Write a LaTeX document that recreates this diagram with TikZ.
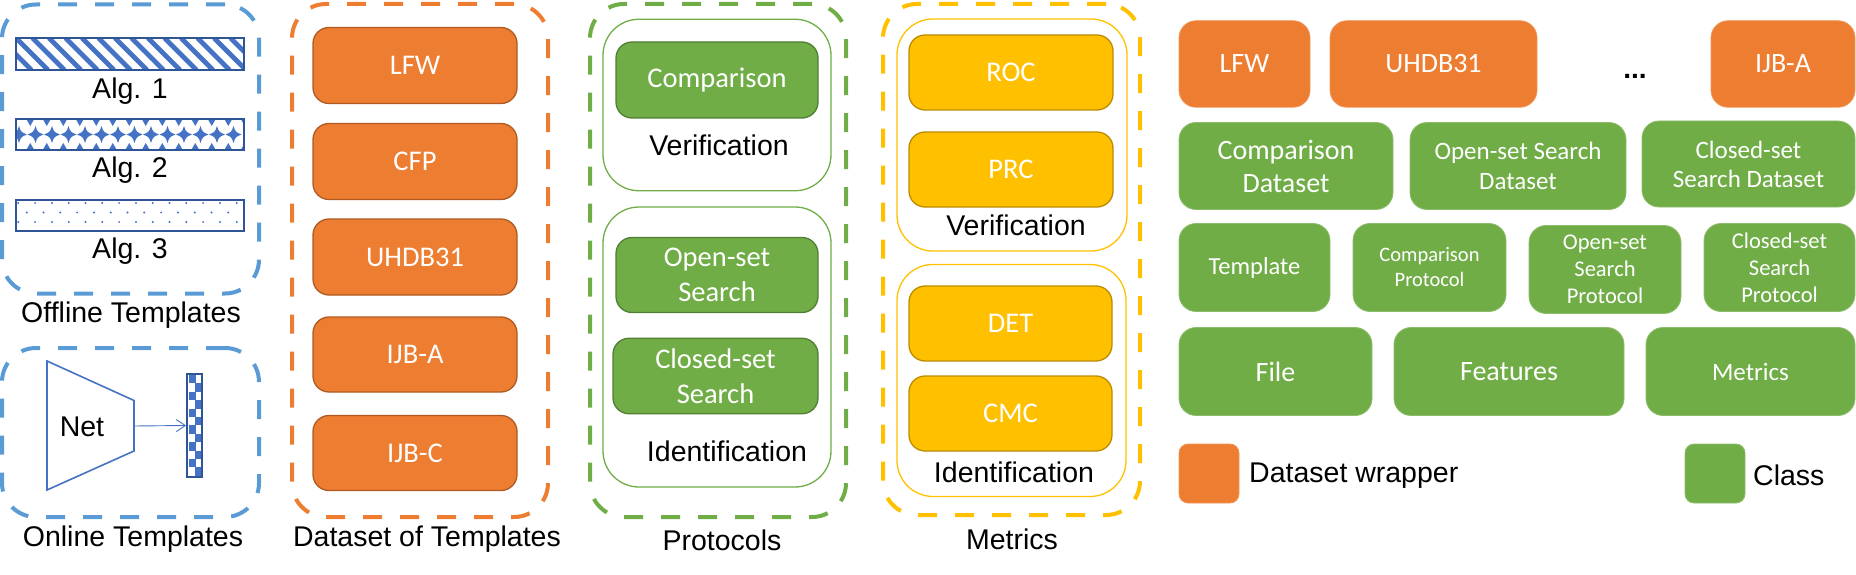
\documentclass[tikz,border=0pt]{standalone}
\usepackage{fontspec}
\setmainfont{Liberation Sans}
\newfontfamily\boxfont{Carlito}
\usetikzlibrary{arrows.meta}
\definecolor{orfill}{HTML}{ED7D31}
\definecolor{ordraw}{HTML}{AE5A21}
\definecolor{grfill}{HTML}{70AD47}
\definecolor{grdraw}{HTML}{507E32}
\definecolor{yefill}{HTML}{FFC000}
\definecolor{yedraw}{HTML}{BC8C00}
\definecolor{bldash}{HTML}{5B9BD5}
\definecolor{blpat}{HTML}{4472C4}
\definecolor{bldraw}{HTML}{2F5597}
\tikzset{
  dashbox/.style={draw=#1, line width=4pt, dash pattern=on 19pt off 18pt, rounded corners=34pt, inner sep=0pt},
  innerbox/.style={draw=#1, line width=1.3pt, rounded corners=36pt, inner sep=0pt},
  cbox/.style={rectangle, rounded corners=16pt, line width=1.3pt, text=white, align=center, inner sep=0pt,
    font=\boxfont\fontsize{28.5}{35}\selectfont},
  obox/.style={cbox, fill=orfill, draw=ordraw},
  gbox/.style={cbox, fill=grfill, draw=grdraw},
  ybox/.style={cbox, fill=yefill, draw=yedraw},
  rbox/.style={rectangle, rounded corners=17pt, fill=#1, draw=#1!80!white, line width=0.8pt, text=white, align=center, inner sep=0pt,
    font=\boxfont\fontsize{28}{33}\selectfont},
  lbl/.style={font=\fontsize{28.5}{33}\selectfont, inner sep=0pt, text=black},
}
\begin{document}
\begin{tikzpicture}[x=1pt,y=-1pt]
\useasboundingbox (0,0) rectangle (1856,575);
% ---------------- Offline / Online templates ----------------
\node[dashbox=bldash, minimum width=257, minimum height=289] (offbox) at (130.5,149) {};
% Alg 1 bar: diagonal stripes
\begin{scope}
  \clip (16,38) rectangle (244,70);
  \foreach \i in {-3,...,15} \draw[blpat, line width=4.8pt] (16+\i*16.5,38) -- (48+\i*16.5,70);
\end{scope}
\node[draw=bldraw, line width=1.8pt, minimum width=228, minimum height=32, inner sep=0pt] (alg1bar) at (130,54) {};
\node[lbl] (alg1) at (130,91.5) {Alg. 1};
% Alg 2 bar: diamonds
\begin{scope}
  \clip (16,119) rectangle (244,150);
  \foreach \i in {0,...,13} \fill[blpat] (19+\i*16.5,126) .. controls (21+\i*16.5,132) .. (27+\i*16.5,134.5) .. controls (21+\i*16.5,137) .. (19+\i*16.5,143) .. controls (17+\i*16.5,137) .. (11+\i*16.5,134.5) .. controls (17+\i*16.5,132) .. cycle;
  \foreach \i in {0,...,14} {
    \fill[blpat] (9.75+\i*16.5,119) -- (17.75+\i*16.5,119) -- (13.75+\i*16.5,126) -- cycle;
    \fill[blpat] (9.75+\i*16.5,150) -- (17.75+\i*16.5,150) -- (13.75+\i*16.5,143) -- cycle;
  }
\end{scope}
\node[draw=bldraw, line width=1.8pt, minimum width=228, minimum height=31, inner sep=0pt] (alg2bar) at (130,134.5) {};
\node[lbl] (alg2) at (130,170.5) {Alg. 2};
% Alg 3 bar: dots
\foreach \i in {0,...,13} {
  \fill[blpat] (18.3+\i*16.8,203) circle (1.1pt);
  \fill[blpat] (18.3+\i*16.8,222) circle (1.1pt);
}
\foreach \i in {0,...,12} \fill[blpat] (26.7+\i*16.8,212.5) circle (1.1pt);
\node[draw=bldraw, line width=1.8pt, minimum width=228, minimum height=31, inner sep=0pt] (alg3bar) at (130,215.5) {};
\node[lbl] (alg3) at (130,251) {Alg. 3};
\node[lbl] (offlbl) at (131,315.5) {Offline Templates};
% Online
\node[dashbox=bldash, minimum width=257, minimum height=169] (onbox) at (130.5,432.5) {};
\draw[blpat, line width=1.6pt] (47,361) -- (134,400.5) -- (134,451) -- (47,490) -- cycle;
\coordinate (netout) at (134,426);
\node[lbl] (net) at (82,427) {Net};
\foreach \r in {0,...,11} {
  \pgfmathsetmacro{\cx}{mod(\r,2)==0 ? 189 : 194.5}
  \fill[blpat] (\cx,375+\r*8.4) rectangle ++(6.5,8.4);
}
\node[draw=bldraw, line width=1.8pt, minimum width=15, minimum height=103, inner sep=0pt] (feat) at (194.5,425.5) {};
\draw[blpat, line width=0.9pt, -{Straight Barb[length=9pt,width=12pt]}] (netout) -- (feat.west);
\node[lbl] (onlbl) at (133,539) {Online Templates};
% ---------------- Dataset of Templates ----------------
\node[dashbox=orfill, minimum width=256, minimum height=513] (dsbox) at (420,260.5) {};
\node[obox, minimum width=204, minimum height=76] (dlfw) at (415,65.5) {LFW};
\node[obox, minimum width=204, minimum height=76] (dcfp) at (415,161.5) {CFP};
\node[obox, minimum width=204, minimum height=76] (duhdb) at (415,257) {UHDB31};
\node[obox, minimum width=204, minimum height=75] (dijba) at (415,354.5) {IJB-A};
\node[obox, minimum width=204, minimum height=75] (dijbc) at (415,453) {IJB-C};
\node[lbl] (dslbl) at (427,539) {Dataset of Templates};
% ---------------- Protocols ----------------
\node[dashbox=grfill, minimum width=256, minimum height=513] (prbox) at (718,260.5) {};
\node[innerbox=grfill, minimum width=228, minimum height=171.5] (prver) at (717,105) {};
\node[gbox, minimum width=202, minimum height=76] (pcomp) at (717,80) {Comparison};
\node[lbl] (prverl) at (719,145) {Verification};
\node[innerbox=grfill, minimum width=228, minimum height=280] (prid) at (717,347) {};
\node[gbox, minimum width=202, minimum height=75] (popen) at (717,275) {Open-set\\Search};
\node[gbox, minimum width=205, minimum height=75.5] (pclosed) at (715.5,376) {Closed-set\\Search};
\node[lbl] (pridl) at (727,451) {Identification};
\node[lbl] (prlbl) at (722,540.5) {Protocols};
% ---------------- Metrics ----------------
\node[dashbox=yefill, minimum width=257, minimum height=511] (mebox) at (1011.5,259.5) {};
\node[innerbox=yefill, minimum width=230, minimum height=232] (mever) at (1012,135) {};
\node[ybox, minimum width=204, minimum height=75] (mroc) at (1011,72.5) {ROC};
\node[ybox, minimum width=204, minimum height=75] (mprc) at (1011,169.5) {PRC};
\node[lbl] (meverl) at (1016,225.5) {Verification};
\node[innerbox=yefill, minimum width=229, minimum height=232] (meid) at (1011.5,380.5) {};
\node[ybox, minimum width=203, minimum height=75] (mdet) at (1010.5,323.5) {DET};
\node[ybox, minimum width=203, minimum height=75] (mcmc) at (1010.5,413.5) {CMC};
\node[lbl] (meidl) at (1014,472) {Identification};
\node[lbl] (melbl) at (1012,539) {Metrics};
% ---------------- Right: classes ----------------
\node[rbox=orfill, minimum width=131, minimum height=86.5] (rlfw) at (1244.5,64) {LFW};
\node[rbox=orfill, minimum width=207, minimum height=86.5] (ruhdb) at (1433.5,64) {UHDB31};
\node[font=\bfseries\fontsize{28}{32}\selectfont, inner sep=0pt, anchor=base] (dots) at (1635,79) {...};
\node[rbox=orfill, minimum width=144, minimum height=86.5] (rijba) at (1783,64) {IJB-A};
\node[rbox=grfill, minimum width=214, minimum height=87] (rcd) at (1286,166) {Comparison\\Dataset};
\node[rbox=grfill, minimum width=216, minimum height=87, font=\boxfont\fontsize{25}{30}\selectfont] (rosd) at (1518,166) {Open-set Search\\Dataset};
\node[rbox=grfill, minimum width=213, minimum height=86, font=\boxfont\fontsize{25}{29}\selectfont] (rcsd) at (1748.5,164) {Closed-set\\Search Dataset};
\node[rbox=grfill, minimum width=151, minimum height=88, font=\boxfont\fontsize{24.5}{28}\selectfont] (rtpl) at (1254.5,267.5) {Template};
\node[rbox=grfill, minimum width=153, minimum height=88, font=\boxfont\fontsize{20.5}{25}\selectfont] (rcp) at (1429.5,267.5) {Comparison\\Protocol};
\node[rbox=grfill, minimum width=152, minimum height=88, font=\boxfont\fontsize{22.5}{27}\selectfont] (rosp) at (1605,269.5) {Open-set\\Search\\Protocol};
\node[rbox=grfill, minimum width=151, minimum height=88, font=\boxfont\fontsize{22.5}{27}\selectfont] (rcsp) at (1779.5,267.5) {Closed-set\\Search\\Protocol};
\node[rbox=grfill, minimum width=193, minimum height=88] (rfile) at (1275.5,371.5) {File};
\node[rbox=grfill, minimum width=230, minimum height=88] (rfeat) at (1509,371.5) {Features};
\node[rbox=grfill, minimum width=209, minimum height=88, font=\boxfont\fontsize{25}{28}\selectfont] (rmet) at (1750.5,371.5) {Metrics};
% Legend
\node[rbox=orfill, rounded corners=9pt, minimum width=60, minimum height=59] (legor) at (1209,473.5) {};
\node[lbl, anchor=west] (legorl) at (1249,475.5) {Dataset wrapper};
\node[rbox=grfill, rounded corners=9pt, minimum width=60, minimum height=59] (leggr) at (1715,473.5) {};
\node[lbl, anchor=west] (leggrl) at (1753,475.5) {Class};
\end{tikzpicture}
\end{document}
